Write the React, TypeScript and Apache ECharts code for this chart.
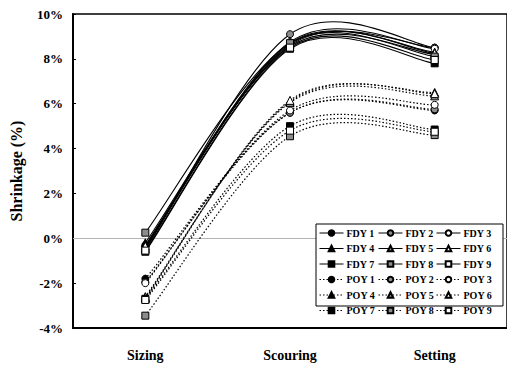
import React, { useEffect, useRef } from "react";
import * as echarts from "echarts";

const categories = ["Sizing", "Scouring", "Setting"];

const fdyNames = ["FDY 1", "FDY 2", "FDY 3", "FDY 4", "FDY 5", "FDY 6", "FDY 7", "FDY 8", "FDY 9"];
const poyNames = ["POY 1", "POY 2", "POY 3", "POY 4", "POY 5", "POY 6", "POY 7", "POY 8", "POY 9"];

const fdy1 = [-0.3, 8.6, 8.5];
const fdy2 = [-0.5, 9.1, 8.5];
const fdy3 = [-0.4, 8.75, 8.45];
const fdy4 = [-0.2, 8.55, 8.2];
const fdy5 = [-0.45, 8.65, 8.3];
const fdy6 = [-0.35, 8.7, 8.25];
const fdy7 = [-0.6, 8.45, 7.8];
const fdy8 = [0.25, 8.7, 8.1];
const fdy9 = [-0.55, 8.5, 7.95];

const poy1 = [-1.8, 5.6, 5.7];
const poy2 = [-1.95, 5.6, 5.75];
const poy3 = [-2.0, 5.7, 5.95];
const poy4 = [-2.65, 6.1, 6.5];
const poy5 = [-2.6, 6.05, 6.35];
const poy6 = [-2.7, 6.15, 6.45];
const poy7 = [-2.7, 5.0, 4.85];
const poy8 = [-3.45, 4.55, 4.6];
const poy9 = [-2.75, 4.8, 4.75];

const fdyData = [fdy1, fdy2, fdy3, fdy4, fdy5, fdy6, fdy7, fdy8, fdy9];
const poyData = [poy1, poy2, poy3, poy4, poy5, poy6, poy7, poy8, poy9];

const yTicks = { min: -4, max: 10, interval: 2 };

const FONT = "'Liberation Serif', 'Times New Roman', serif";
const symbols = ["circle", "circle", "circle", "triangle", "triangle", "triangle", "rect", "rect", "rect"];
const fills = ["#000", "#8c8c8c", "#fff", "#000", "#8c8c8c", "#fff", "#000", "#8c8c8c", "#fff"];
const DOT: number[] = [1.5, 2];

function makeSeries(name: string, data: number[], i: number) {
  return {
    name,
    type: "line",
    data,
    smooth: false,
    symbol: symbols[i],
    symbolSize: symbols[i] === "triangle" ? 8 : 7,
    showSymbol: true,
    lineStyle: { color: "#000", width: 1, opacity: 0 },
    itemStyle: { color: fills[i], borderColor: "#000", borderWidth: 1 },
    z: 5,
  };
}

export default function App() {
  const ref = useRef<HTMLDivElement>(null);
  useEffect(() => {
    if (!ref.current) return;
    const chart = echarts.init(ref.current, undefined, { renderer: "svg" });
    const curves = [...fdyData, ...poyData];
    const series: any[] = [];
    fdyData.forEach((d, i) => series.push(makeSeries(fdyNames[i], d, i)));
    poyData.forEach((d, i) => series.push(makeSeries(poyNames[i], d, i)));

    // smooth spline curves (Catmull-Rom through each series' points, via the axis scales)
    series.push({
      type: "custom",
      silent: true,
      z: 3,
      data: curves.map(() => [0, 0]),
      encode: { x: 0, y: 1 },
      renderItem: (params: any, api: any) => {
        const vals = curves[params.dataIndex];
        const dotted = params.dataIndex >= fdyData.length;
        const pts = vals.map((v, k) => api.coord([k, v]));
        const n = pts.length;
        const children: any[] = [];
        for (let k = 0; k < n - 1; k++) {
          const p0 = pts[Math.max(0, k - 1)];
          const p1 = pts[k];
          const p2 = pts[k + 1];
          const p3 = pts[Math.min(n - 1, k + 2)];
          children.push({
            type: "bezierCurve",
            shape: {
              x1: p1[0],
              y1: p1[1],
              cpx1: p1[0] + (p2[0] - p0[0]) / 6,
              cpy1: p1[1] + (p2[1] - p0[1]) / 6,
              cpx2: p2[0] - (p3[0] - p1[0]) / 6,
              cpy2: p2[1] - (p3[1] - p1[1]) / 6,
              x2: p2[0],
              y2: p2[1],
            },
            style: {
              fill: null,
              stroke: "#000",
              lineWidth: dotted ? 1.2 : 1.1,
              lineDash: dotted ? DOT : null,
            },
          });
        }
        return { type: "group", children };
      },
    });

    series[0].markLine = {
      silent: true,
      symbol: "none",
      label: { show: false },
      lineStyle: { color: "#b4b4b4", width: 1, type: "solid", opacity: 1 },
      data: [{ yAxis: 0 }],
      z: 1,
    };
    const allNames = [...fdyNames, ...poyNames];
    const cols = [0, 1, 2].map((c) => allNames.filter((_, k) => k % 3 === c));
    const colLeft = [319, 378, 436];
    const legends = cols.map((names, c) => ({
      data: names.map((nm) => ({
        name: nm,
        lineStyle: { color: "#000", width: 1, opacity: 1, type: nm.startsWith("POY") ? DOT : "solid" },
      })),
      orient: "vertical",
      left: colLeft[c],
      top: 228,
      itemWidth: 24,
      itemHeight: 7,
      itemGap: 5.5,
      padding: 0,
      z: 20,
      textStyle: { fontFamily: FONT, fontWeight: "bold", fontSize: 10, color: "#000", padding: [0, 0, 0, -2] },
    }));
    chart.setOption({
      animation: false,
      backgroundColor: "#fff",
      grid: { left: 72, top: 14, width: 446, height: 314, show: true, borderColor: "#000", borderWidth: 1.5, containLabel: false },
      xAxis: {
        type: "category",
        data: categories,
        boundaryGap: true,
        axisLine: { onZero: false, lineStyle: { color: "#000", width: 2 } },
        axisTick: { show: false },
        axisLabel: { margin: 20, fontFamily: FONT, fontWeight: "bold", fontSize: 14, color: "#000" },
        splitLine: { show: false },
      },
      yAxis: {
        type: "value",
        min: yTicks.min,
        max: yTicks.max,
        interval: yTicks.interval,
        name: "Shrinkage (%)",
        nameLocation: "middle",
        nameGap: 49,
        nameTextStyle: { fontFamily: FONT, fontWeight: "bold", fontSize: 16, color: "#000" },
        axisLine: { show: true, onZero: false, lineStyle: { color: "#000", width: 2 } },
        axisTick: { show: true, inside: true, length: 3, lineStyle: { color: "#000" } },
        axisLabel: { margin: 10, formatter: "{value}%", fontFamily: FONT, fontWeight: "bold", fontSize: 13, color: "#000" },
        splitLine: { show: false },
      },
      legend: legends,
      graphic: [
        {
          type: "rect",
          shape: { x: 316, y: 224, width: 187, height: 82 },
          style: { fill: "#fff", stroke: "#000", lineWidth: 1 },
          z: 15,
        },
      ],
      series,
    });
    return () => chart.dispose();
  }, []);
  return <div ref={ref} style={{ width: 507, height: 365, position: "absolute", left: 0, top: 0 }} />;
}
